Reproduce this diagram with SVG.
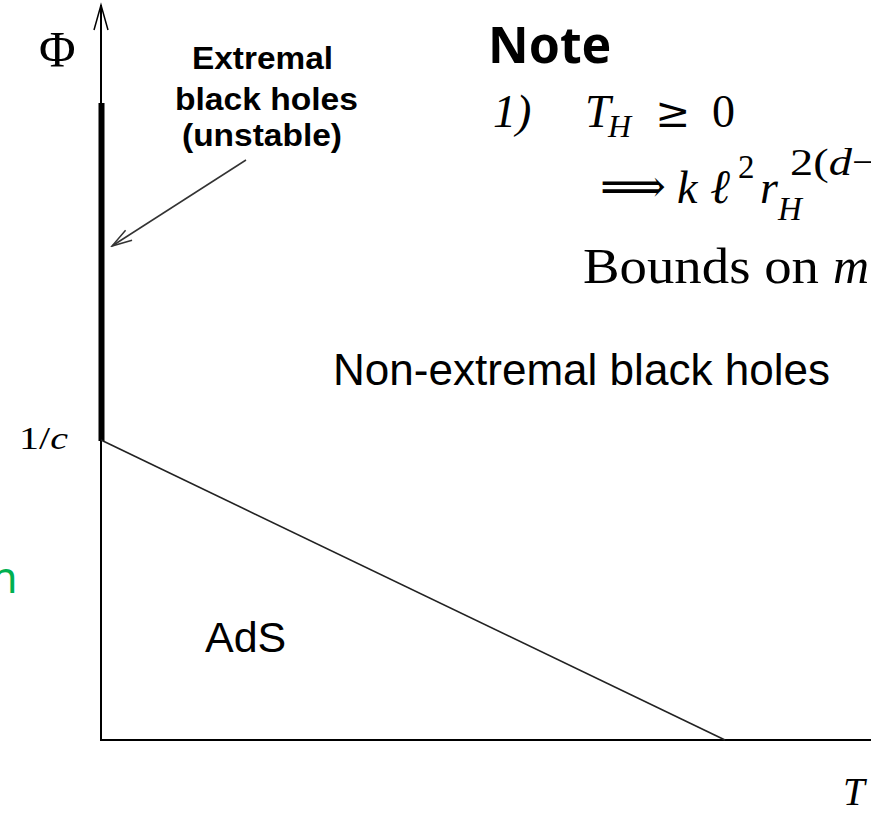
<svg xmlns="http://www.w3.org/2000/svg" width="871" height="819" viewBox="0 0 871 819">
<style>
.lbl{font-family:"Liberation Sans",Arial,sans-serif;fill:#000}
.bold{font-weight:bold}
.ser{font-family:"Liberation Serif","Times New Roman",serif;fill:#000}
.it{font-style:italic}
.math{font-family:"Liberation Serif","DejaVu Serif",serif;fill:#000}
.ax{stroke:#000;stroke-width:2;fill:none}
</style>
<defs>
<marker id="openArrow" markerWidth="24" markerHeight="16" refX="22" refY="8" orient="auto" markerUnits="userSpaceOnUse">
<path d="M2,2 L22,8 L2,14" fill="none" stroke="#333" stroke-width="1.5"/>
</marker>
</defs>
<rect width="871" height="819" fill="#fff"/>
<g id="axes">
<line class="ax" x1="101" y1="740" x2="101" y2="5"/>
<path d="M94,30 L101,5 L108,30" fill="none" stroke="#000" stroke-width="1.5"/>
<line class="ax" x1="100" y1="740" x2="871" y2="740"/>
</g>
<g id="extremal-line">
<line x1="101.5" y1="103" x2="101.5" y2="441" stroke="#000" stroke-width="6"/>
</g>
<g id="connectors">
<line x1="101" y1="440" x2="725" y2="740" stroke="#222" stroke-width="1.6"/>
<line x1="246" y1="160" x2="112" y2="246" stroke="#333" stroke-width="1.5" marker-end="url(#openArrow)"/>
</g>
<g id="axis-labels">
<text class="ser" x="39" y="66" font-size="50">Φ</text>
<text class="ser" x="19" y="449" font-size="31" textLength="49" lengthAdjust="spacingAndGlyphs">1/<tspan class="it">c</tspan></text>
<text class="ser it" x="843" y="805" font-size="39">T</text>
</g>
<g id="label-extremal">
<text class="lbl bold" x="192" y="69" font-size="31" textLength="141" lengthAdjust="spacingAndGlyphs">Extremal</text>
<text class="lbl bold" x="175" y="110" font-size="31" textLength="183" lengthAdjust="spacingAndGlyphs">black holes</text>
<text class="lbl bold" x="182" y="146" font-size="31" textLength="160" lengthAdjust="spacingAndGlyphs">(unstable)</text>
</g>
<g id="label-nonextremal">
<text class="lbl" x="333" y="385" font-size="44" textLength="497" lengthAdjust="spacingAndGlyphs">Non-extremal black holes</text>
</g>
<g id="label-ads">
<text class="lbl" x="205" y="652" font-size="43">AdS</text>
</g>
<g id="note">
<text x="488" y="63" font-family="'Noto Sans','Open Sans',sans-serif" font-weight="bold" font-size="50" fill="#000">Note</text>
<text class="math it" x="493" y="127" font-size="46">1)</text>
<text class="math it" x="585" y="127" font-size="46">T</text>
<text class="math it" x="608" y="137" font-size="32">H</text>
<text x="655" y="127" font-family="'DejaVu Serif',serif" font-size="42" fill="#000">≥</text>
<text class="math" x="712" y="127" font-size="46">0</text>
<text class="math" x="600" y="202" font-size="46">⟹</text>
<text class="math it" x="677" y="203" font-size="46">k</text>
<text class="math it" x="710" y="203" font-size="48">ℓ</text>
<text class="math" x="738" y="178" font-size="33">2</text>
<text class="math it" x="760" y="203" font-size="46">r</text>
<text class="math it" x="778" y="220" font-size="33">H</text>
<text class="math" x="790" y="175" font-size="38" textLength="88" lengthAdjust="spacingAndGlyphs">2(<tspan class="it">d</tspan>−</text>
<text class="math" x="583" y="283" font-size="50" textLength="236" lengthAdjust="spacingAndGlyphs">Bounds on</text>
<text class="math it" x="833" y="283" font-size="50">m</text>
</g>
<g id="green-fragment">
<text x="-9" y="593" font-family="'Noto Sans','Open Sans',sans-serif" font-size="43" fill="#00b050">n</text>
</g>
</svg>
